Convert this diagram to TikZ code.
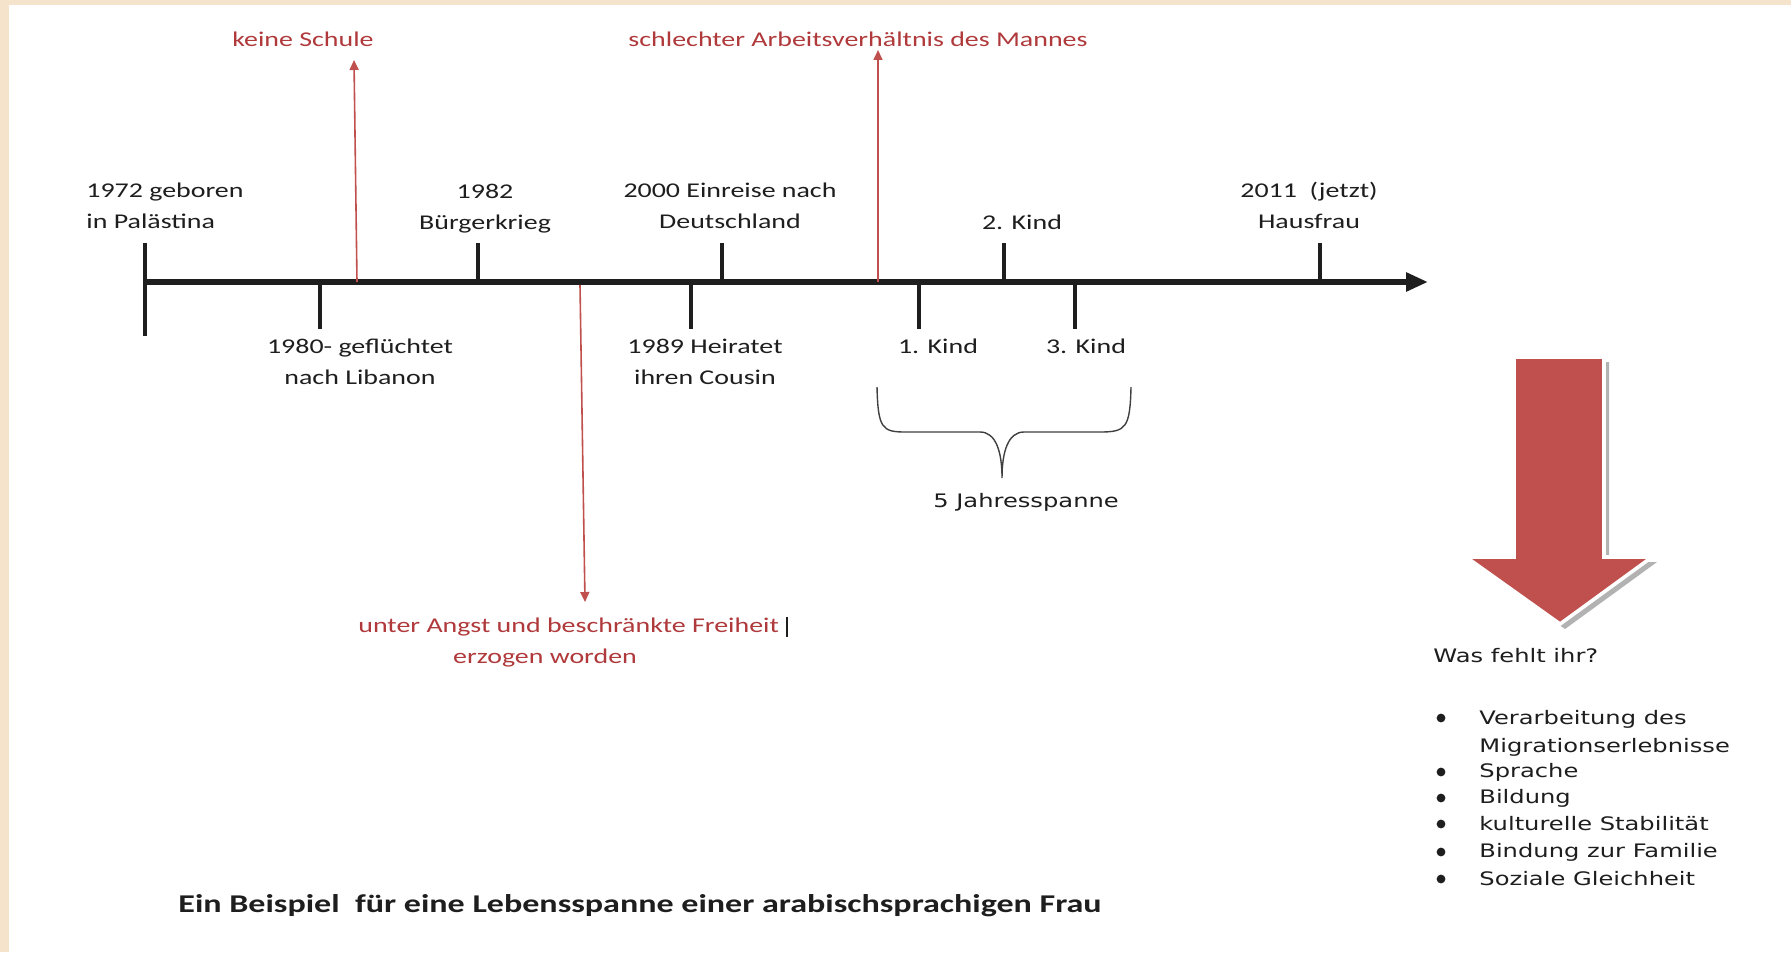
\documentclass[tikz,border=0pt]{standalone}
\usepackage{fontspec}
\setmainfont{Carlito}[FakeStretch=1.33]
\newfontfamily\listfont{DejaVu Sans}[FakeStretch=1.3]
\usetikzlibrary{arrows.meta,positioning}
\definecolor{beige}{HTML}{F6E3CB}
\definecolor{accred}{HTML}{C0504D}
\definecolor{txtred}{HTML}{B0393B}
\definecolor{ink}{HTML}{1E1E1E}
\begin{document}
\begin{tikzpicture}[x=0.5pt, y=-0.5pt,
    eventlabel/.style={inner sep=0pt, align=center, text=ink, font=\fontsize{10.5}{15.5}\selectfont},
    redlabel/.style={inner sep=0pt, align=center, text=txtred, font=\fontsize{10.5}{15.5}\selectfont},
    listtext/.style={inner sep=0pt, anchor=west, text=ink, font=\listfont\fontsize{9.3}{14}\selectfont},
    axis/.style={line width=3pt, ink, -{Triangle[length=11pt, width=9pt]}},
    tickmark/.style={line width=2.3pt, ink},
    redarrow/.style={-{Triangle[length=5pt, width=4.5pt]}, accred, line width=0.8pt}
]

% Background and frame
\fill[white] (0,0) rectangle (1791,952);
\fill[beige] (0,0) rectangle (1791,5);
\fill[beige] (0,0) rectangle (9,952);
\useasboundingbox (0,0) rectangle (1791,952);

% Timeline
\coordinate (tstart) at (145,282);
\coordinate (tend) at (1428,282);
\draw[axis] (tstart) -- (tend);

% Ticks
\draw[tickmark] (145,243) -- (145,336);
\foreach \x in {478,722,1004,1320} \draw[tickmark] (\x,243) -- (\x,282);
\foreach \x in {320,691,919,1075} \draw[tickmark] (\x,282) -- (\x,329);

% Events above
\node[eventlabel, anchor=west, align=left] (born) at (86,206) {1972 geboren\\in Palästina};
\node[eventlabel] (war) at (485,209) {1982\\Bürgerkrieg};
\node[eventlabel] (entry) at (730,206) {2000 Einreise nach\\Deutschland};
\node[eventlabel] (kid2) at (1022,222) {2. Kind};
\node[eventlabel] (now) at (1309,205) {2011\ \ (jetzt)\\Hausfrau};

% Events below
\node[eventlabel] (flight) at (360,362) {1980- geflüchtet\\nach Libanon};
\node[eventlabel] (wedding) at (705,362) {1989 Heiratet\\ihren Cousin};
\node[eventlabel] (kid1) at (938,346) {1. Kind};
\node[eventlabel] (kid3) at (1086,346) {3. Kind};

% Brace
\draw[ink!85, line width=0.7pt] (877,387) .. controls (878,428) and (882,432) .. (905,432)
    -- (980,432) .. controls (996,432) and (1002,452) .. (1002,478)
    .. controls (1002,452) and (1008,432) .. (1024,432)
    -- (1100,432) .. controls (1126,432) and (1130,428) .. (1131,387);
\node[inner sep=0pt, text=ink, font=\listfont\fontsize{9.3}{13.5}\selectfont] (span) at (1026,502) {5 Jahresspanne};

% Red remarks
\node[redlabel] (school) at (303,39) {keine Schule};
\node[redlabel] (job) at (858,39) {schlechter Arbeitsverhältnis des Mannes};
\node[redlabel, anchor=west] (fear) at (358,627) {unter Angst und beschränkte Freiheit};
\node[redlabel] (raised) at (545,658) {erzogen worden};
\draw[ink, line width=0.9pt] ([xshift=4]fear.east) ++(0,-10) -- ++(0,20);

\coordinate (cut1) at (357,282);
\coordinate (cut1top) at (354,60);
\coordinate (cut2) at (878,282);
\coordinate (cut2top) at (878,50);
\coordinate (cut3) at (580,285);
\coordinate (cut3end) at (585,602);
\draw[redarrow] (cut1) -- (cut1top);
\draw[redarrow] (cut2) -- (cut2top);
\draw[redarrow] (cut3) -- (cut3end);

% Big arrow
\fill[black!30, shift={(5,5)}] (1514,357) -- (1604,357) -- (1604,557) -- (1652,557) -- (1560,624) -- (1466,557) -- (1514,557) -- cycle;
\filldraw[fill=accred, draw=white, line width=1.8pt] (1514,357) -- (1604,357) -- (1604,557) -- (1652,557) -- (1560,624) -- (1466,557) -- (1514,557) -- cycle;

% What is missing
\node[listtext] (missing) at (1433,656) {Was fehlt ihr?};
\node[listtext, anchor=north west, align=left] (item1) at (1479,710) {Verarbeitung des\\Migrationserlebnisse};
\node[listtext] (item2) at (1479,772) {Sprache};
\node[listtext] (item3) at (1479,798) {Bildung};
\node[listtext] (item4) at (1479,824) {kulturelle Stabilität};
\node[listtext] (item5) at (1479,852) {Bindung zur Familie};
\node[listtext] (item6) at (1479,879) {Soziale Gleichheit};
\foreach \y in {718,772,798,824,852,879}
    \fill[ink] (1441,\y) circle (2.2pt);

% Title
\node[inner sep=0pt, anchor=west, text=ink, font=\bfseries\fontsize{12.8}{15}\selectfont] (title) at (178,906) {Ein Beispiel\ \ für eine Lebensspanne einer arabischsprachigen Frau};

\end{tikzpicture}
\end{document}
